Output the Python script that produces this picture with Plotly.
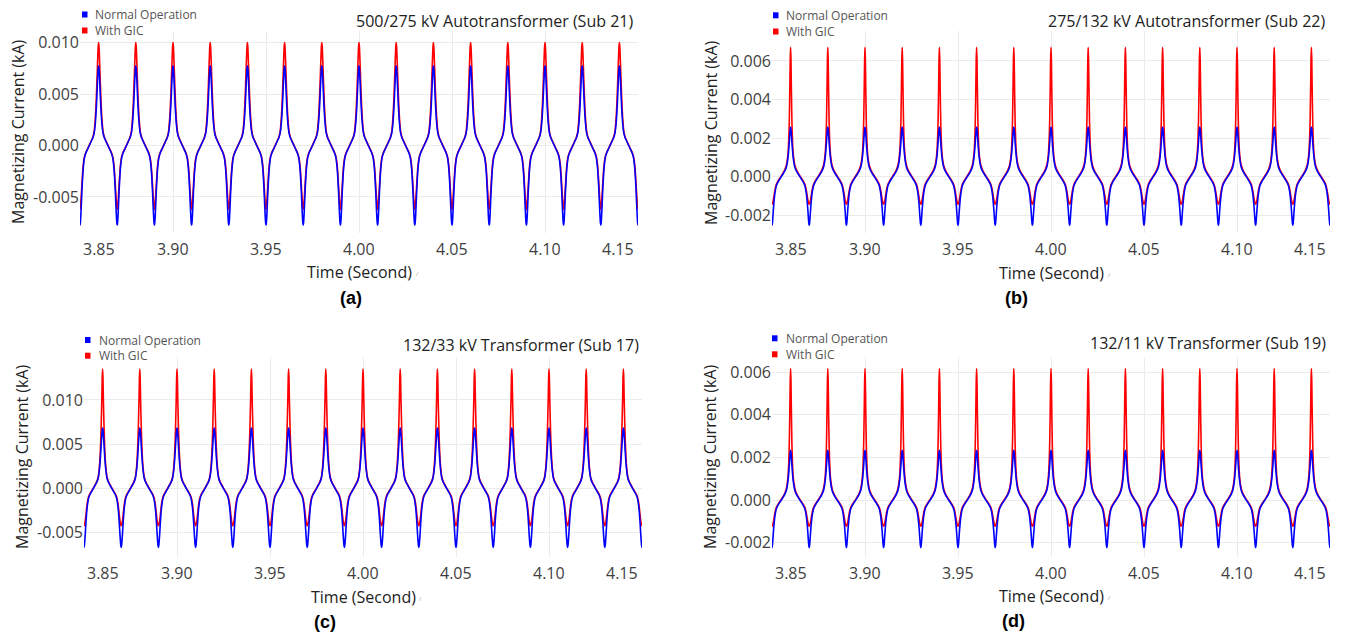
import numpy as np
import plotly.graph_objects as go

W, H = 1345, 636

# One period of each magnetising-current waveform (kA), sampled at fractions of the
# 20 ms period measured from the positive peak.
PHASE = [0.000, 0.010, 0.020, 0.035, 0.050, 0.070, 0.090, 0.120, 0.160, 0.200,
         0.250, 0.300, 0.340, 0.380, 0.410, 0.430, 0.450, 0.465, 0.480, 0.490,
         0.500, 0.510, 0.520, 0.535, 0.550, 0.570, 0.590, 0.620, 0.660, 0.700,
         0.750, 0.800, 0.840, 0.880, 0.910, 0.930, 0.950, 0.965, 0.980, 0.990]

PERIOD = 0.02          # s (50 Hz)
FIRST_PEAK = 3.84      # s
N_CYCLES = 17

# Sub 21 - 500/275 kV autotransformer
sub21_normal = [0.00774, 0.00751, 0.00697, 0.00581, 0.00449, 0.00310, 0.00209, 0.00120, 0.00070, 0.00039,
                0.00000, -0.00039, -0.00070, -0.00120, -0.00209, -0.00310, -0.00449, -0.00581, -0.00697, -0.00751,
                -0.00774, -0.00751, -0.00697, -0.00581, -0.00449, -0.00310, -0.00209, -0.00120, -0.00070, -0.00039,
                0.00000, 0.00039, 0.00070, 0.00120, 0.00209, 0.00310, 0.00449, 0.00581, 0.00697, 0.00751]
sub21_gic = [0.01000, 0.00965, 0.00885, 0.00730, 0.00570, 0.00390, 0.00256, 0.00134, 0.00076, 0.00044,
             0.00003, -0.00036, -0.00066, -0.00108, -0.00180, -0.00270, -0.00390, -0.00480, -0.00565, -0.00603,
             -0.00620, -0.00603, -0.00565, -0.00480, -0.00390, -0.00270, -0.00180, -0.00108, -0.00066, -0.00036,
             0.00003, 0.00044, 0.00076, 0.00134, 0.00256, 0.00390, 0.00570, 0.00730, 0.00885, 0.00965]

# Sub 22 - 275/132 kV autotransformer
sub22_normal = [0.00257, 0.00247, 0.00224, 0.00180, 0.00141, 0.00100, 0.00072, 0.00046, 0.00028, 0.00015,
                0.00000, -0.00015, -0.00028, -0.00045, -0.00071, -0.00098, -0.00139, -0.00176, -0.00219, -0.00242,
                -0.00252, -0.00242, -0.00219, -0.00176, -0.00139, -0.00098, -0.00071, -0.00045, -0.00028, -0.00015,
                0.00000, 0.00015, 0.00028, 0.00046, 0.00072, 0.00100, 0.00141, 0.00180, 0.00224, 0.00247]
sub22_gic = [0.00670, 0.00610, 0.00470, 0.00290, 0.00190, 0.00120, 0.00085, 0.00055, 0.00034, 0.00019,
             0.00004, -0.00011, -0.00023, -0.00038, -0.00058, -0.00080, -0.00104, -0.00122, -0.00135, -0.00141,
             -0.00143, -0.00141, -0.00135, -0.00122, -0.00104, -0.00080, -0.00058, -0.00038, -0.00023, -0.00011,
             0.00004, 0.00019, 0.00034, 0.00055, 0.00085, 0.00120, 0.00190, 0.00290, 0.00470, 0.00610]

# Sub 17 - 132/33 kV transformer
sub17_normal = [0.00682, 0.00662, 0.00614, 0.00518, 0.00409, 0.00286, 0.00198, 0.00116, 0.00068, 0.00038,
                0.00000, -0.00037, -0.00067, -0.00113, -0.00193, -0.00279, -0.00399, -0.00505, -0.00599, -0.00645,
                -0.00665, -0.00645, -0.00599, -0.00505, -0.00399, -0.00279, -0.00193, -0.00113, -0.00067, -0.00037,
                0.00000, 0.00038, 0.00068, 0.00116, 0.00198, 0.00286, 0.00409, 0.00518, 0.00614, 0.00662]
sub17_gic = [0.01348, 0.01250, 0.01030, 0.00760, 0.00540, 0.00345, 0.00225, 0.00128, 0.00075, 0.00043,
             0.00005, -0.00030, -0.00058, -0.00098, -0.00160, -0.00225, -0.00305, -0.00358, -0.00396, -0.00412,
             -0.00418, -0.00412, -0.00396, -0.00358, -0.00305, -0.00225, -0.00160, -0.00098, -0.00058, -0.00030,
             0.00005, 0.00043, 0.00075, 0.00128, 0.00225, 0.00345, 0.00540, 0.00760, 0.01030, 0.01250]

# Sub 19 - 132/11 kV transformer
sub19_normal = [0.00234, 0.00225, 0.00204, 0.00164, 0.00129, 0.00091, 0.00066, 0.00042, 0.00026, 0.00014,
                0.00000, -0.00013, -0.00025, -0.00040, -0.00062, -0.00087, -0.00123, -0.00156, -0.00194, -0.00214,
                -0.00223, -0.00214, -0.00194, -0.00156, -0.00123, -0.00087, -0.00062, -0.00040, -0.00025, -0.00013,
                0.00000, 0.00014, 0.00026, 0.00042, 0.00066, 0.00091, 0.00129, 0.00164, 0.00204, 0.00225]
sub19_gic = [0.00617, 0.00560, 0.00432, 0.00267, 0.00175, 0.00110, 0.00078, 0.00050, 0.00031, 0.00017,
             0.00003, -0.00010, -0.00020, -0.00033, -0.00050, -0.00069, -0.00089, -0.00105, -0.00116, -0.00121,
             -0.00122, -0.00121, -0.00116, -0.00105, -0.00089, -0.00069, -0.00050, -0.00033, -0.00020, -0.00010,
             0.00003, 0.00017, 0.00031, 0.00050, 0.00078, 0.00110, 0.00175, 0.00267, 0.00432, 0.00560]

PANEL_TITLES = ["500/275 kV Autotransformer (Sub 21)", "275/132 kV Autotransformer (Sub 22)",
                "132/33 kV Transformer (Sub 17)", "132/11 kV Transformer (Sub 19)"]
PANEL_TAGS = ["(a)", "(b)", "(c)", "(d)"]
SERIES_NAMES = ["Normal Operation", "With GIC"]

X_TICKS = [3.85, 3.90, 3.95, 4.00, 4.05, 4.10, 4.15]
X_TICK_LABELS = ["3.85", "3.90", "3.95", "4.00", "4.05", "4.10", "4.15"]
Y_TICKS_A = [-0.005, 0.0, 0.005, 0.010]
Y_TICK_LABELS_A = ["-0.005", "0.000", "0.005", "0.010"]
Y_TICKS_B = [-0.002, 0.0, 0.002, 0.004, 0.006]
Y_TICK_LABELS_B = ["-0.002", "0.000", "0.002", "0.004", "0.006"]

BLUE, RED = "#0000ff", "#ff0000"
FONT = "Open Sans, Noto Sans, sans-serif"
TXT = "#222222"
TICK = "#3f3f3f"
GRID = "#ebebeb"


def px_x(x):
    return x / W


def px_y(y):
    return 1 - y / H


def tile(cycle):
    """Repeat one sampled period over the displayed time window."""
    t, v = [], []
    for k in range(N_CYCLES):
        for p, val in zip(PHASE, cycle):
            t.append(FIRST_PEAK + PERIOD * (k + p))
            v.append(val)
    t.append(FIRST_PEAK + PERIOD * N_CYCLES)
    v.append(cycle[0])
    return np.array(t), np.array(v)


panels = [
    dict(normal=sub21_normal, gic=sub21_gic, xdom=(80, 638), ydom=(31, 233),
         yrange=[-0.0085, 0.01112], yt=Y_TICKS_A, ytl=Y_TICK_LABELS_A,
         title_xy=(635, 21), legend_sq=82, legend_tx=93, legend_y=(14.5, 30.5),
         ytitle_xy=(18, 132), xtitle_xy=(359, 272), tag_xy=(351, 298)),
    dict(normal=sub22_normal, gic=sub22_gic, xdom=(772, 1330), ydom=(31, 233),
         yrange=[-0.00292, 0.00755], yt=Y_TICKS_B, ytl=Y_TICK_LABELS_B,
         title_xy=(1327, 21), legend_sq=773, legend_tx=784, legend_y=(15.3, 31.5),
         ytitle_xy=(711, 132), xtitle_xy=(1051, 273), tag_xy=(1016, 298)),
    dict(normal=sub17_normal, gic=sub17_gic, xdom=(84, 642), ydom=(357, 557),
         yrange=[-0.00772, 0.01484], yt=Y_TICKS_A, ytl=Y_TICK_LABELS_A,
         title_xy=(641, 345), legend_sq=85, legend_tx=97, legend_y=(340, 355.7),
         ytitle_xy=(22, 457), xtitle_xy=(363, 597), tag_xy=(325, 622)),
    dict(normal=sub19_normal, gic=sub19_gic, xdom=(772, 1330), ydom=(357, 557),
         yrange=[-0.00267, 0.00671], yt=Y_TICKS_B, ytl=Y_TICK_LABELS_B,
         title_xy=(1328, 343), legend_sq=772, legend_tx=784, legend_y=(338.3, 354.3),
         ytitle_xy=(710, 457), xtitle_xy=(1051, 596), tag_xy=(1013, 621)),
]

fig = go.Figure()
annotations, shapes = [], []

for i, pnl in enumerate(panels):
    n = "" if i == 0 else str(i + 1)
    xref, yref = "x" + n, "y" + n

    for series, color, name in ((pnl["gic"], RED, SERIES_NAMES[1]),
                                (pnl["normal"], BLUE, SERIES_NAMES[0])):
        t, v = tile(series)
        fig.add_trace(go.Scatter(x=t, y=v, mode="lines", name=name, showlegend=False,
                                 line=dict(color=color, width=1.6, shape="spline", smoothing=0.6),
                                 xaxis=xref, yaxis=yref, hoverinfo="skip"))

    x0, x1 = pnl["xdom"]
    ytop, ybot = pnl["ydom"]
    fig.update_layout({
        "xaxis" + n: dict(domain=[px_x(x0), px_x(x1)], anchor=yref, range=[3.85, 4.15],
                          tickvals=X_TICKS, showticklabels=False, ticks="",
                          showgrid=True, gridcolor=GRID, gridwidth=1,
                          zeroline=False, showline=False, fixedrange=True),
        "yaxis" + n: dict(domain=[px_y(ybot), px_y(ytop)], anchor=xref, range=pnl["yrange"],
                          tickvals=pnl["yt"], ticktext=pnl["ytl"], ticks="",
                          tickfont=dict(family=FONT, size=16, color=TICK),
                          showgrid=True, gridcolor=GRID, gridwidth=1,
                          zeroline=False, showline=False, fixedrange=True),
    })

    # x tick labels, end labels kept inside the plotting area
    for j, (tv, tl) in enumerate(zip(X_TICKS, X_TICK_LABELS)):
        if j == 0:
            anchor, shift = "left", 1
        elif j == len(X_TICKS) - 1:
            anchor, shift = "right", -2
        else:
            anchor, shift = "center", 0
        annotations.append(dict(x=tv, xref=xref, y=px_y(ybot), yref="paper",
                                text=tl, showarrow=False, xanchor=anchor, yanchor="middle",
                                xshift=shift, yshift=-16,
                                font=dict(family=FONT, size=16, color=TICK)))

    # panel title
    tx, ty = pnl["title_xy"]
    annotations.append(dict(x=px_x(tx), y=px_y(ty), xref="paper", yref="paper",
                            text=PANEL_TITLES[i], showarrow=False, xanchor="right", yanchor="middle",
                            font=dict(family=FONT, size=16, color=TXT)))

    # legend: coloured squares with labels
    for (ly, color, name) in zip(pnl["legend_y"], (BLUE, RED), SERIES_NAMES):
        sx = pnl["legend_sq"]
        shapes.append(dict(type="rect", xref="paper", yref="paper",
                           x0=px_x(sx), x1=px_x(sx + 5.5), y0=px_y(ly + 3), y1=px_y(ly - 3),
                           fillcolor=color, line=dict(width=0)))
        annotations.append(dict(x=px_x(pnl["legend_tx"]), y=px_y(ly), xref="paper", yref="paper",
                                text=name, showarrow=False, xanchor="left", yanchor="middle",
                                font=dict(family=FONT, size=12, color="#555555")))

    # axis titles
    yx, yy = pnl["ytitle_xy"]
    annotations.append(dict(x=px_x(yx), y=px_y(yy), xref="paper", yref="paper",
                            text="Magnetizing Current (kA)", showarrow=False, textangle=-90,
                            xanchor="center", yanchor="middle",
                            font=dict(family=FONT, size=16, color=TXT)))
    xx, xy = pnl["xtitle_xy"]
    annotations.append(dict(x=px_x(xx), y=px_y(xy), xref="paper", yref="paper",
                            text="Time (Second)", showarrow=False, xanchor="center", yanchor="middle",
                            font=dict(family=FONT, size=16, color=TXT)))
    annotations.append(dict(x=px_x(xx + 58), y=px_y(xy + 2), xref="paper", yref="paper",
                            text="/", showarrow=False, xanchor="center", yanchor="middle",
                            font=dict(family=FONT, size=6, color="#999999")))

    # panel tag
    gx, gy = pnl["tag_xy"]
    annotations.append(dict(x=px_x(gx), y=px_y(gy), xref="paper", yref="paper",
                            text="<b>" + PANEL_TAGS[i] + "</b>", showarrow=False,
                            xanchor="center", yanchor="middle",
                            font=dict(family="Liberation Sans, Arial, sans-serif", size=18, color="#000000")))

fig.update_layout(
    width=W, height=H,
    margin=dict(l=0, r=0, t=0, b=0),
    paper_bgcolor="white", plot_bgcolor="white",
    showlegend=False,
    annotations=annotations, shapes=shapes,
    font=dict(family=FONT),
)

fig.write_html("out.html")
